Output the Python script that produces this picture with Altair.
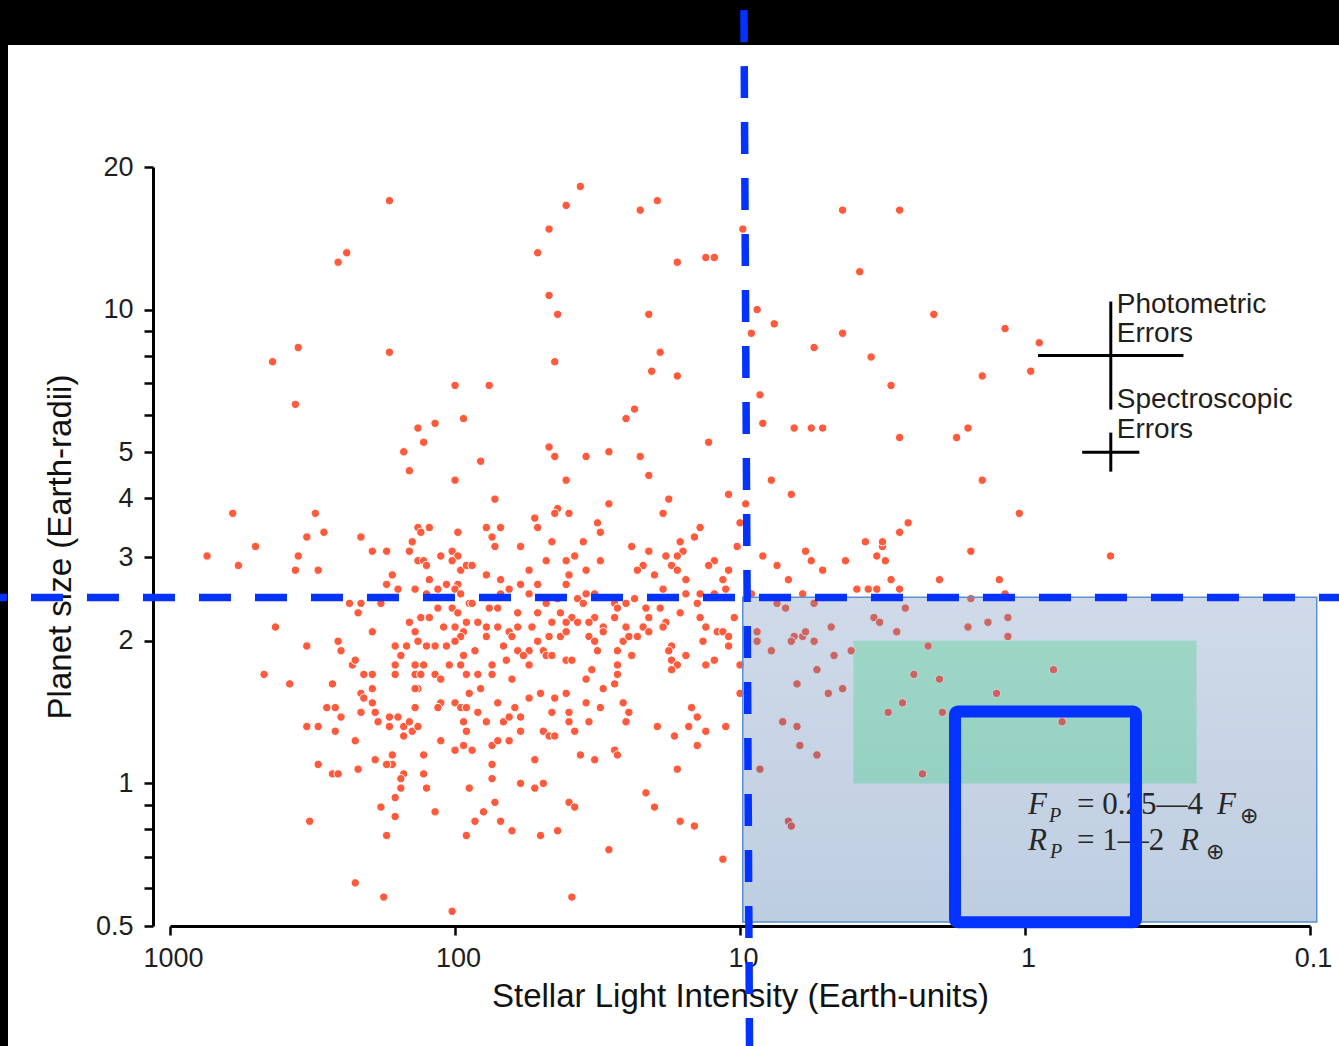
import altair as alt
import numpy as np
import pandas as pd

# Planet candidates as (log10 stellar flux [Earth units], log10 radius [Earth radii])
large_planets = [
    (2.23, 1.23), (2.38, 1.12), (2.41, 1.10), (1.56, 1.26), (1.61, 1.22), (1.67, 1.17), (1.71, 1.12),
    (1.29, 1.23), (1.35, 1.21), (1.22, 1.10), (1.67, 1.03), (1.64, 0.99), (1.32, 0.99), (2.55, 0.92),
    (2.64, 0.89), (2.23, 0.91), (1.65, 0.89), (1.28, 0.91), (1.31, 0.87), (1.22, 0.86), (2.56, 0.80),
    (2.00, 0.84), (1.88, 0.84), (2.07, 0.76), (2.13, 0.75), (2.11, 0.72), (1.97, 0.77), (2.18, 0.70),
    (2.16, 0.66), (1.91, 0.68), (2.00, 0.64), (1.67, 0.71), (1.65, 0.69), (1.54, 0.69), (1.46, 0.70),
    (1.37, 0.79), (1.40, 0.77), (1.35, 0.69), (1.32, 0.65), (1.61, 0.64), (1.86, 0.60), (1.25, 0.60),
    (0.64, 1.21), (0.44, 1.21), (0.99, 1.17), (1.12, 1.11), (1.09, 1.11), (0.58, 1.08), (0.94, 1.00),
    (0.88, 0.97), (0.96, 0.95), (0.74, 0.92), (0.64, 0.95), (0.54, 0.90), (0.32, 0.99), (0.07, 0.96),
    (-0.05, 0.93), (-0.02, 0.87), (0.15, 0.86), (0.47, 0.84), (0.93, 0.82), (0.92, 0.76), (0.81, 0.75),
    (0.75, 0.75), (0.71, 0.75), (0.44, 0.73), (0.24, 0.73), (0.20, 0.75), (1.11, 0.72), (0.89, 0.64),
    (0.82, 0.61), (0.15, 0.64), (1.04, 0.61),
]

cool_planets = [
    (0.98, 0.59), (1.00, 0.55), (1.14, 0.54), (1.16, 0.52), (0.02, 0.57), (0.41, 0.55), (0.44, 0.53),
    (0.56, 0.51), (0.50, 0.50), (0.50, 0.51), (0.52, 0.48), (0.49, 0.47), (0.63, 0.47), (0.77, 0.49),
    (0.75, 0.47), (0.92, 0.48), (1.01, 0.50), (1.09, 0.47), (1.11, 0.46), (1.04, 0.45), (1.06, 0.43),
    (1.19, 0.43), (1.20, 0.49), (0.87, 0.46), (0.71, 0.45), (0.83, 0.43), (0.19, 0.49), (0.09, 0.43),
    (-0.30, 0.48), (0.47, 0.43), (0.44, 0.41), (0.30, 0.43), (0.59, 0.41), (0.55, 0.41), (0.52, 0.41),
    (0.78, 0.40), (1.05, 0.41), (1.19, 0.40), (0.96, 0.40), (1.21, 0.51),
    (0.87, 0.38), (0.84, 0.37), (0.74, 0.38), (0.42, 0.37), (0.19, 0.39), (0.07, 0.40), (0.81, 0.31),
    (0.82, 0.30), (0.78, 0.31), (0.77, 0.32), (0.74, 0.30), (0.68, 0.33), (0.53, 0.35), (0.51, 0.34),
    (0.45, 0.32), (0.20, 0.33), (0.13, 0.34), (0.06, 0.35), (0.06, 0.31), (0.89, 0.28), (0.67, 0.27),
    (0.61, 0.28), (0.34, 0.29), (0.73, 0.24), (0.80, 0.21), (0.64, 0.20), (0.69, 0.19), (0.39, 0.23),
    (0.30, 0.22), (0.10, 0.19), (-0.10, 0.24), (0.48, 0.15), (0.43, 0.17), (0.29, 0.15), (-0.13, 0.13),
    (0.85, 0.13), (0.80, 0.12), (0.79, 0.08), (0.73, 0.06), (0.36, 0.02), (0.83, -0.08), (0.82, -0.09),
    (0.94, 0.32), (0.94, 0.30), (1.00, 0.25), (1.00, 0.19), (0.93, 0.03),
]

hot_small_planets = [
    (2.78, 0.57), (2.49, 0.57), (2.46, 0.53), (2.52, 0.52), (2.70, 0.50), (2.87, 0.48), (2.76, 0.46),
    (2.55, 0.48), (2.56, 0.45), (2.48, 0.45), (2.33, 0.52), (2.29, 0.49), (2.24, 0.49), (2.13, 0.54),
    (2.09, 0.54), (2.12, 0.53), (1.99, 0.53), (2.15, 0.51), (2.16, 0.49), (2.05, 0.48), (2.01, 0.49),
    (1.99, 0.48), (2.01, 0.47), (2.13, 0.47), (2.11, 0.47), (2.10, 0.46), (1.98, 0.45), (1.96, 0.46),
    (2.22, 0.44), (2.24, 0.42), (2.20, 0.41), (2.14, 0.41), (2.09, 0.43), (2.03, 0.42), (1.99, 0.42),
    (2.06, 0.41), (2.10, 0.40), (2.00, 0.41), (1.98, 0.40), (2.37, 0.38), (2.33, 0.38), (2.34, 0.36),
    (2.26, 0.38), (2.01, 0.37), (2.06, 0.37), (1.99, 0.36), (1.95, 0.38), (2.12, 0.35), (2.09, 0.35),
    (2.16, 0.34), (1.96, 0.34), (2.63, 0.33), (2.29, 0.32), (2.04, 0.33), (2.00, 0.33), (1.97, 0.32),
    (2.14, 0.32), (2.13, 0.30), (1.98, 0.31), (2.00, 0.30), (2.03, 0.29), (2.07, 0.29), (2.10, 0.29),
    (2.17, 0.29), (2.21, 0.29), (2.41, 0.30), (2.40, 0.28), (2.52, 0.29), (2.19, 0.27), (1.97, 0.27),
    (2.36, 0.25), (2.35, 0.26), (2.21, 0.25), (2.21, 0.23), (2.14, 0.25), (2.11, 0.25), (2.02, 0.25),
    (1.98, 0.25), (2.14, 0.23), (2.12, 0.23), (2.07, 0.23), (2.05, 0.22), (1.96, 0.23), (2.29, 0.23),
    (2.32, 0.23), (2.67, 0.23), (2.58, 0.21), (2.43, 0.21), (2.33, 0.19), (2.29, 0.20), (2.13, 0.20),
    (2.14, 0.20), (2.32, 0.18), (2.29, 0.17), (2.33, 0.15), (2.28, 0.15), (2.14, 0.16), (2.05, 0.17),
    (2.00, 0.17), (2.06, 0.16), (1.98, 0.16), (1.96, 0.16), (2.42, 0.16), (2.45, 0.16), (2.40, 0.14),
    (2.52, 0.12), (2.48, 0.12), (2.42, 0.11), (2.35, 0.09), (2.27, 0.13), (2.23, 0.14), (2.20, 0.14),
    (2.23, 0.12), (2.18, 0.10), (2.18, 0.12), (2.16, 0.13), (2.15, 0.11), (2.13, 0.12), (1.97, 0.13),
    (1.96, 0.11), (2.05, 0.09), (2.00, 0.07), (1.97, 0.08), (2.48, 0.04), (2.43, 0.02), (2.41, 0.02),
    (2.34, 0.03), (2.28, 0.05), (2.22, 0.06), (2.22, 0.04), (2.24, 0.04), (2.11, 0.06), (2.11, 0.02),
    (2.18, 0.02), (2.19, 0.01), (2.19, -0.01), (2.10, -0.01), (2.21, -0.03), (2.26, -0.05), (2.21, -0.07),
    (2.07, -0.06), (2.51, -0.08), (2.24, -0.11), (1.96, -0.11), (2.35, -0.21), (2.25, -0.24), (2.01, -0.27),
    (1.95, 0.19), (1.95, -0.01),
]

warm_small_planets = [
    (1.46, 0.59), (1.64, 0.58), (1.65, 0.57), (1.60, 0.57), (1.72, 0.56), (1.71, 0.54), (1.27, 0.57),
    (1.50, 0.55), (1.49, 0.53), (1.84, 0.54), (1.89, 0.54), (1.87, 0.52), (1.86, 0.50), (1.77, 0.50),
    (1.66, 0.51), (1.55, 0.51), (1.38, 0.50), (1.32, 0.49),
    (1.68, 0.47), (1.61, 0.47), (1.58, 0.48), (1.49, 0.47), (1.34, 0.46), (1.26, 0.48), (1.22, 0.48),
    (1.24, 0.46), (1.22, 0.45), (1.36, 0.45), (1.30, 0.44), (1.54, 0.45), (1.74, 0.45), (1.89, 0.44),
    (1.84, 0.43), (1.94, 0.46), (1.77, 0.42), (1.71, 0.42), (1.61, 0.42), (1.60, 0.44), (1.74, 0.40),
    (1.81, 0.41), (1.84, 0.40), (1.51, 0.40), (1.27, 0.41), (1.09, 0.40), (1.14, 0.40),
    (1.68, 0.38), (1.64, 0.39), (1.57, 0.39), (1.54, 0.40), (1.37, 0.39), (1.44, 0.38), (1.43, 0.37),
    (1.40, 0.38), (1.33, 0.37), (1.28, 0.37), (1.15, 0.38), (1.85, 0.37), (1.88, 0.37), (1.94, 0.38),
    (1.78, 0.36), (1.71, 0.36), (1.63, 0.36), (1.59, 0.35), (1.55, 0.38), (1.51, 0.35), (1.44, 0.35),
    (1.32, 0.35), (1.26, 0.34), (1.21, 0.36), (1.14, 0.35), (1.02, 0.35),
    (1.92, 0.34), (1.89, 0.33), (1.85, 0.33), (1.78, 0.33), (1.73, 0.33), (1.66, 0.34), (1.61, 0.34),
    (1.57, 0.34), (1.53, 0.34), (1.48, 0.33), (1.40, 0.33), (1.34, 0.33), (1.27, 0.33), (1.12, 0.33),
    (1.89, 0.31), (1.81, 0.32), (1.80, 0.31), (1.71, 0.30), (1.67, 0.31), (1.63, 0.31), (1.61, 0.32),
    (1.53, 0.31), (1.51, 0.30), (1.48, 0.32), (1.41, 0.30), (1.39, 0.31), (1.36, 0.31), (1.32, 0.32),
    (1.24, 0.29), (1.08, 0.32), (1.06, 0.32), (1.04, 0.31), (1.13, 0.30), (1.04, 0.29),
    (1.93, 0.28), (1.83, 0.29), (1.78, 0.28), (1.74, 0.28), (1.69, 0.28), (1.50, 0.28), (1.43, 0.28),
    (1.76, 0.27), (1.68, 0.27), (1.66, 0.27), (1.82, 0.26), (1.87, 0.25), (1.74, 0.25), (1.61, 0.26),
    (1.59, 0.26), (1.43, 0.25), (1.38, 0.27), (1.25, 0.28), (1.19, 0.27), (1.24, 0.26), (1.22, 0.25),
    (1.09, 0.26), (1.12, 0.25),
    (1.87, 0.23), (1.92, 0.23), (1.80, 0.22), (1.43, 0.23), (1.24, 0.24), (1.52, 0.24), (1.54, 0.22),
    (1.44, 0.21), (1.48, 0.20),
    (1.91, 0.20), (1.85, 0.17), (1.74, 0.18), (1.70, 0.19), (1.65, 0.18), (1.61, 0.19), (1.54, 0.17),
    (1.41, 0.17), (1.39, 0.15), (1.49, 0.16),
    (1.92, 0.15), (1.89, 0.13), (1.83, 0.13), (1.81, 0.14), (1.79, 0.16), (1.77, 0.14), (1.77, 0.11),
    (1.66, 0.15), (1.60, 0.15), (1.60, 0.13), (1.58, 0.11), (1.53, 0.13), (1.40, 0.13), (1.29, 0.12),
    (1.18, 0.12), (1.17, 0.16), (1.15, 0.14), (1.12, 0.11), (1.05, 0.12), (1.23, 0.10), (1.15, 0.08),
    (1.94, 0.07), (1.87, 0.08), (1.85, 0.09), (1.81, 0.09), (1.69, 0.11), (1.67, 0.10), (1.65, 0.10),
    (1.72, 0.05), (1.56, 0.06), (1.51, 0.05), (1.44, 0.07), (1.43, 0.06),
    (1.87, 0.04), (1.87, 0.01), (1.77, 0.00), (1.72, -0.01), (1.69, 0.00), (1.22, 0.03), (1.33, -0.02),
    (1.30, -0.05), (1.86, -0.04), (1.90, -0.06), (1.93, -0.08), (1.84, -0.08), (1.80, -0.10),
    (1.70, -0.11), (1.64, -0.10), (1.60, -0.04), (1.58, -0.05), (1.21, -0.08), (1.16, -0.09),
    (1.46, -0.14), (1.06, -0.16), (1.59, -0.24),
]

# Axis ticks
x_ticks = [1000, 100, 10, 1, 0.1]
y_ticks = [20, 10, 9, 8, 7, 6, 5, 4, 3, 2, 1, 0.9, 0.8, 0.7, 0.6, 0.5]
y_labelled = [20, 10, 5, 4, 3, 2, 1, 0.5]

# Highlighted regions (flux range, radius range)
small_zone = {"flux_hi": 9.78, "flux_lo": 0.0947, "r_lo": 0.51, "r_hi": 2.47}
habitable_zone = {"flux_hi": 4.0, "flux_lo": 0.25, "r_lo": 1.0, "r_hi": 2.0}
earth_like_box = {"flux_hi": 1.76, "flux_lo": 0.408, "r_lo": 0.509, "r_hi": 1.419}

# Cut lines: flux ~10 (slightly slanted) and radius ~2.47
flux_cut = {"f_top": 9.69, "f_bottom": 9.26, "r_top": 44.9, "r_bottom": 0.279}
radius_cut = {"f_left": 3950.0, "f_right": 0.0791, "radius": 2.469}

# Typical error bars (centre, low, high)
error_kind = ["Photometric", "Spectroscopic"]
error_flux = [0.5, 0.5]
error_flux_lo = [0.278, 0.397]
error_flux_hi = [0.9, 0.63]
error_radius = [8.0, 5.0]
error_r_lo = [6.15, 4.55]
error_r_hi = [10.4, 5.5]

error_label_text = ["Photometric", "Errors", "Spectroscopic", "Errors"]
error_label_radius = [9.86, 8.56, 6.20, 5.37]

# Formula pieces: text, baseline radius, dx, dy, size, style
formula_flux = 0.976
formula_pieces = [
    ("F", 0.860, 0, 0, 31, "italic"),
    ("P", 0.860, 21, 8, 20, "italic"),
    ("= 0.25\u20144", 0.860, 49, 0, 31, "normal"),
    ("F", 0.860, 189, 0, 31, "italic"),
    ("\u2295", 0.860, 212, 9, 22, "normal"),
    ("R", 0.722, 0, 0, 31, "italic"),
    ("P", 0.722, 22, 8, 20, "italic"),
    ("= 1\u20142", 0.722, 49, 0, 31, "normal"),
    ("R", 0.722, 152, 0, 31, "italic"),
    ("\u2295", 0.722, 178, 9, 22, "normal"),
]

BLUE = "#0433ff"
SANS = "Liberation Sans"
SERIF = "Liberation Serif"

pts = np.array(large_planets + cool_planets + hot_small_planets + warm_small_planets)
planets = pd.DataFrame({"flux": 10 ** pts[:, 0], "radius": 10 ** pts[:, 1]})

x_scale = alt.Scale(type="log", domain=[0.1, 1000], reverse=True, nice=False)
y_scale = alt.Scale(type="log", domain=[0.5, 20], nice=False)

# One shared axis definition per channel, used by every layer so they merge into one
x_axis = alt.Axis(
    values=x_ticks,
    format="~g",
    title="Stellar Light Intensity (Earth-units)",
    labelFlush=False,
    labelOffset=3,
    labelPadding=10,
    titlePadding=9,
)
y_axis = alt.Axis(
    values=y_ticks,
    format="~g",
    labelExpr="indexof(%s, datum.value) >= 0 ? datum.label : ''" % str(y_labelled),
    title="Planet size (Earth-radii)",
    offset=17,
    labelPadding=11,
    titlePadding=18,
)


def xq(field):
    return alt.X(field, type="quantitative", scale=x_scale, axis=x_axis)


def yq(field):
    return alt.Y(field, type="quantitative", scale=y_scale, axis=y_axis)


one_row = alt.Data(values=[{"k": 0}])

# Black frame strips along the top and left edges
top_bar = alt.Chart(one_row).mark_rect(color="black").encode(
    x=alt.value(-170), x2=alt.value(1169), y=alt.value(-167), y2=alt.value(-122)
)
left_bar = alt.Chart(one_row).mark_rect(color="black").encode(
    x=alt.value(-170), x2=alt.value(-162), y=alt.value(-167), y2=alt.value(879)
)

hab = alt.Chart(pd.DataFrame([habitable_zone])).mark_rect(color="#bafcce").encode(
    x=xq("flux_hi"), x2="flux_lo", y=yq("r_lo"), y2="r_hi"
)

dots = alt.Chart(planets).mark_circle(
    size=70, color="#ff5a3c", opacity=1, stroke="white", strokeWidth=1
).encode(x=xq("flux"), y=yq("radius"))

zone = alt.Chart(pd.DataFrame([small_zone])).mark_rect(
    fill=alt.Gradient(
        gradient="linear",
        stops=[
            alt.GradientStop(color="#6284b6", offset=0),
            alt.GradientStop(color="#265c9b", offset=1),
        ],
        x1=0, x2=0, y1=0, y2=1,
    ),
    fillOpacity=0.3,
    stroke="#5b8fd0",
    strokeWidth=1.5,
).encode(x=xq("flux_hi"), x2="flux_lo", y=yq("r_lo"), y2="r_hi")

errors = pd.DataFrame({
    "kind": error_kind, "flux": error_flux, "flux_lo": error_flux_lo, "flux_hi": error_flux_hi,
    "radius": error_radius, "r_lo": error_r_lo, "r_hi": error_r_hi,
})
err_h = alt.Chart(errors).mark_rule(color="black", strokeWidth=3).encode(
    x=xq("flux_hi"), x2="flux_lo", y=yq("radius")
)
err_v = alt.Chart(errors).mark_rule(color="black", strokeWidth=3).encode(
    x=xq("flux"), y=yq("r_lo"), y2="r_hi"
)
err_labels = alt.Chart(pd.DataFrame({
    "flux": [0.5] * 4, "radius": error_label_radius, "label": error_label_text
})).mark_text(
    align="left", baseline="alphabetic", dx=6, fontSize=28, font=SANS, color="#1e1e1e"
).encode(x=xq("flux"), y=yq("radius"), text="label:N")

formula_layers = []
for txt, r, dx, dy, size, style in formula_pieces:
    formula_layers.append(
        alt.Chart(pd.DataFrame({"flux": [formula_flux], "radius": [r], "t": [txt]})).mark_text(
            align="left", baseline="alphabetic", dx=dx, dy=dy, fontSize=size,
            fontStyle=style, font=SERIF, color="#262626",
        ).encode(x=xq("flux"), y=yq("radius"), text="t:N")
    )

box = alt.Chart(pd.DataFrame([earth_like_box])).mark_rect(
    fillOpacity=0, stroke=BLUE, strokeWidth=12, cornerRadius=3
).encode(x=xq("flux_hi"), x2="flux_lo", y=yq("r_lo"), y2="r_hi")

v_cut = alt.Chart(pd.DataFrame([flux_cut])).mark_rule(
    color=BLUE, strokeWidth=7.5, strokeDash=[32, 24], strokeDashOffset=46.5
).encode(x=xq("f_top"), x2="f_bottom", y=yq("r_top"), y2="r_bottom")

h_cut = alt.Chart(pd.DataFrame([radius_cut])).mark_rule(
    color=BLUE, strokeWidth=7.5, strokeDash=[32, 24], strokeDashOffset=25
).encode(x=xq("f_left"), x2="f_right", y=yq("radius"))

chart = alt.layer(
    top_bar, left_bar, hab, dots, zone, err_h, err_v, err_labels,
    *formula_layers, box, h_cut, v_cut,
).properties(
    width=1140,
    height=759,
    autosize=alt.AutoSizeParams(type="none"),
    padding={"left": 170, "top": 167, "right": 29, "bottom": 120},
    background="white",
).configure(
    font=SANS
).configure_view(
    stroke=None
).configure_axis(
    grid=False,
    domainColor="black",
    domainWidth=3,
    tickColor="black",
    tickWidth=2.5,
    tickSize=9,
    labelFontSize=27,
    labelColor="#1e1e1e",
    labelFont=SANS,
    titleFont=SANS,
    titleFontSize=33,
    titleFontWeight="normal",
    titleColor="#111111",
)

chart.save("out.html", embed_options={"renderer": "svg", "actions": False})
